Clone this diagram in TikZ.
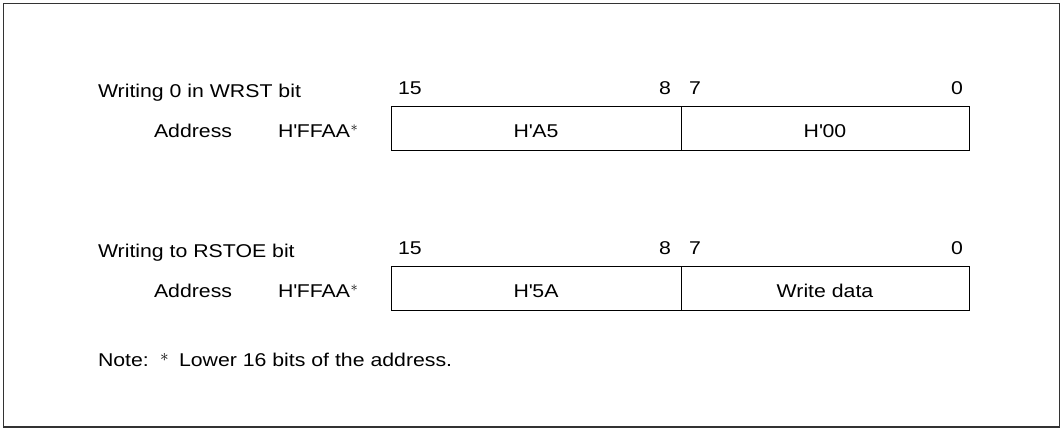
\documentclass[tikz,border=0pt]{standalone}
\usepackage{fontspec}
\setmainfont{Liberation Sans}[FakeStretch=1.15]
\newcommand{\supast}{\raisebox{6.5pt}{\fontsize{15}{15}\selectfont$\ast$}}
\newcommand{\noteast}{\raisebox{5pt}{$\ast$}}
\newcommand{\sq}{\textquotesingle}
\begin{document}
\begin{tikzpicture}[x=1pt,y=-1pt,
  txt/.style={inner sep=0pt,outer sep=0pt,font=\fontsize{18.5}{20}\selectfont},
  reg/.style={draw=black,line width=1.1pt},
  frame/.style={draw=black!80,line width=1.1pt}]
\useasboundingbox (0,0) rectangle (1062,429);
\draw[frame] (3.5,3.5) rectangle (1059.5,427);
\foreach \r/\title/\hi/\lo in {0/{Writing 0 in WRST bit}/{H\sq A5}/{H\sq 00},160/{Writing to RSTOE bit}/{H\sq 5A}/{Write data}}{
  \node[txt,anchor=base west] (title\r) at (98,97.7+\r) {\title};
  \node[txt,anchor=base west] (addr\r) at (154,137.7+\r) {Address};
  \node[txt,anchor=base west] (val\r) at (278,137.7+\r) {H\sq FFAA\hspace{0.5pt}\supast};
  \node[txt,anchor=base west] (b15\r) at (398,94+\r) {15};
  \node[txt,anchor=base east] (b8\r) at (671,94+\r) {8};
  \node[txt,anchor=base west] (b7\r) at (689,94+\r) {7};
  \node[txt,anchor=base east] (b0\r) at (963,94+\r) {0};
  \node[reg,minimum width=290pt,minimum height=44pt,inner sep=0pt,anchor=north west] (hi\r) at (391,106+\r) {};
  \node[reg,minimum width=288pt,minimum height=44pt,inner sep=0pt,anchor=north west] (lo\r) at (681,106+\r) {};
  \node[txt,anchor=base] (hit\r) at (536,137+\r) {\hi};
  \node[txt,anchor=base] (lot\r) at (825,137+\r) {\lo};
}
\node[txt,anchor=base west] (note) at (98,366) {Note:};
\node[txt,anchor=base west] (noteast) at (160,366) {\noteast};
\node[txt,anchor=base west] (notetext) at (179,366) {Lower 16 bits of the address.};
\end{tikzpicture}
\end{document}
